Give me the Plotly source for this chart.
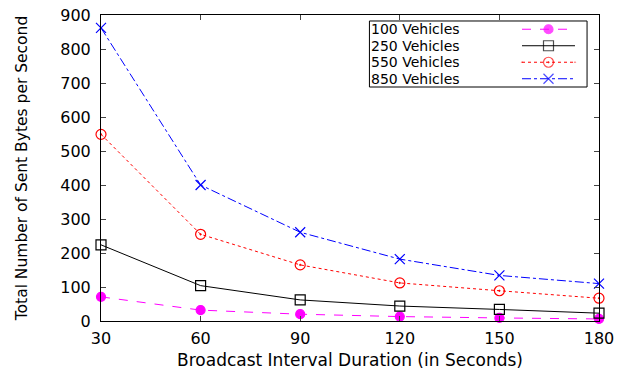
import plotly.graph_objects as go

x_vals = [30, 60, 90, 120, 150, 180]
v100 = [71, 32, 20, 13, 9, 6]
v250 = [224, 104, 62, 44, 34, 23]
v550 = [549, 255, 165, 112, 89, 67]
v850 = [862, 400, 261, 182, 134, 110]
series_names = ["100 Vehicles", "250 Vehicles", "550 Vehicles", "850 Vehicles"]
y_ticks = [0, 100, 200, 300, 400, 500, 600, 700, 800, 900]

FONT = "DejaVu Sans, Liberation Sans, Arial, sans-serif"

styles = [
    dict(color="#ff00ff", dash="dash", symbol="circle", size=9),
    dict(color="#000000", dash="solid", symbol="square-open", size=10),
    dict(color="#ff0000", dash="dot", symbol="circle-open-dot", size=10),
    dict(color="#0000ff", dash="dashdot", symbol="x-thin-open", size=10),
]

fig = go.Figure()
for vals, name, st in zip([v100, v250, v550, v850], series_names, styles):
    fig.add_trace(go.Scatter(
        x=x_vals, y=vals, mode="lines+markers", name=name, showlegend=False,
        line=dict(color=st["color"], dash=st["dash"], width=1),
        marker=dict(symbol=st["symbol"], size=st["size"], color=st["color"],
                    line=dict(color=st["color"], width=1.2)),
        cliponaxis=False,
    ))

# legend key samples (gnuplot style: text on the left, sample on the right)
for i, (name, st) in enumerate(zip(series_names, styles)):
    fig.add_trace(go.Scatter(
        x=[0, 0.5, 1], y=[i, i, i], xaxis="x2", yaxis="y2",
        mode="lines+markers", showlegend=False, hoverinfo="skip",
        line=dict(color=st["color"], dash=st["dash"], width=1),
        marker=dict(symbol=st["symbol"], size=[0, st["size"], 0], color=st["color"],
                    line=dict(color=st["color"], width=[0, 1.2, 0])),
        cliponaxis=False,
    ))

fig.update_layout(
    width=635, height=373,
    margin=dict(l=101, r=36, t=15, b=52),
    paper_bgcolor="white", plot_bgcolor="rgba(0,0,0,0)",
    font=dict(family=FONT, size=16, color="black"),
    showlegend=False,
    xaxis2=dict(domain=[0.8454, 0.9518], range=[0, 1], visible=False, anchor="y2"),
    yaxis2=dict(domain=[0.7647, 0.9804], range=[3.5, -0.5], visible=False, anchor="x2"),
)
fig.layout.xaxis.update(
    domain=[0, 1], anchor="y", automargin=False,
    range=[30, 180], tickvals=x_vals, ticks="inside", ticklen=5,
    showline=True, linecolor="black", linewidth=1, mirror="ticks",
    showgrid=False, zeroline=False, ticklabelstandoff=3,
    tickfont=dict(size=16),
    title=dict(text="Broadcast Interval Duration (in Seconds)", font=dict(size=17), standoff=6),
)
fig.layout.yaxis.update(
    domain=[0, 1], anchor="x", automargin=False,
    range=[0, 900], tickvals=y_ticks, ticks="inside", ticklen=5,
    showline=True, linecolor="black", linewidth=1, mirror="ticks",
    showgrid=False, zeroline=False, ticklabelstandoff=6,
    tickfont=dict(size=16),
    title=dict(text="Total Number of Sent Bytes per Second", font=dict(size=15.5), standoff=28),
)

# legend box and labels
fig.add_shape(type="rect", xref="paper", yref="y2 domain",
              x0=0.539, x1=0.976, y0=0, y1=1,
              line=dict(color="black", width=1), fillcolor="rgba(0,0,0,0)")
for i, name in enumerate(series_names):
    fig.add_annotation(xref="paper", yref="y2",
                       x=(370 - 101) / 498, y=i,
                       text=name, showarrow=False, xanchor="left", yanchor="middle",
                       borderpad=0, font=dict(size=14))

fig.write_html("out.html")
